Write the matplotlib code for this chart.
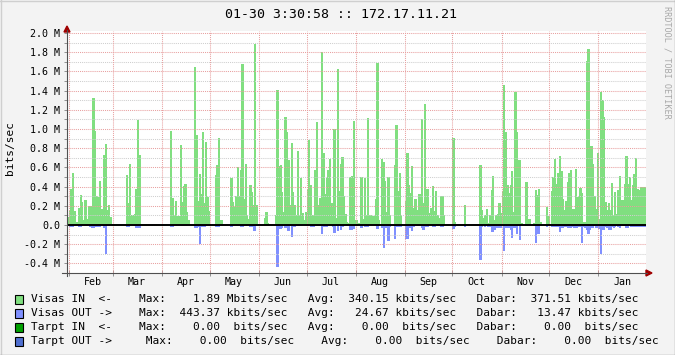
import numpy as np
import pandas as pd
import matplotlib
matplotlib.use("Agg")
import matplotlib.pyplot as plt
import matplotlib.dates as mdates
from matplotlib.patches import Rectangle, Polygon
from matplotlib.lines import Line2D

N = None
start_date = "2014-01-31"   # one bar per day, 365 days

# Visas IN (Mbit/s), daily
visas_in = [
    0.08, 0.16, 0.37, 0.54, 0.15, 0.03, 0.03, 0.18, 0.31, 0.24,
    0.05, 0.26, 0.06, 0.20, 0.20, 0.20, 1.32, 0.98, 0.30, 0.29,
    0.46, 0.17, 0.17, 0.73, 0.84, 0.16, 0.21, 0.08, N, N,
    N, N, N, N, N, N, N, 0.52, 0.23, 0.64,
    0.10, 0.10, 0.11, 0.38, 1.09, 0.73, 0.01, N, N, N,
    N, N, N, N, N, N, N, N, N, N,
    N, N, N, N, N, 0.98, 0.28, 0.10, 0.25, 0.09,
    0.09, 0.83, 0.24, 0.41, 0.43, 0.14, 0.05, N, N, N,
    1.65, 0.94, 0.25, 0.53, 0.32, 0.97, 0.23, 0.86, 0.29, 0.15,
    N, N, N, 0.52, 0.63, 0.91, 0.05, 0.05, N, N,
    N, N, N, 0.49, 0.24, 0.19, 0.30, 0.60, 0.30, 0.57,
    1.68, 0.27, 0.64, 0.10, 0.06, 0.42, 0.34, 0.21, 1.89, 0.21,
    N, N, N, N, 0.07, 0.14, 0.025, N, N, N,
    N, 0.10, 1.41, 0.61, 0.62, 0.34, 0.14, 1.12, 0.97, 0.68,
    0.21, 0.85, 0.34, 0.21, 0.10, 0.77, 0.10, 0.49, 0.13, 0.05,
    0.14, 0.38, 0.89, 0.42, 0.10, 0.10, 0.57, 1.07, 0.21, 0.28,
    1.80, 0.75, 0.32, 0.49, 0.57, 0.69, 0.23, 0.23, 1.00, 0.07,
    1.63, 0.35, 0.64, 0.71, 0.30, 0.11, 0.035, 0.02, 0.50, 0.51,
    1.08, 0.05, 0.05, 0.02, 0.005, 0.50, 0.06, 0.49, 0.10, 1.11,
    0.10, 0.10, 0.09, 0.09, 0.27, 1.69, 0.05, N, 0.69, 0.66,
    0.46, 0.14, 0.50, 0.10, N, N, 0.62, 1.04, 0.35, 0.54,
    0.10, N, N, 0.25, 0.75, 0.42, 0.33, 0.61, 0.18, 0.27,
    0.16, 0.32, 0.32, 1.10, 0.23, 1.26, 0.38, 0.38, 0.13, 0.18,
    0.41, 0.15, 0.35, 0.10, 0.07, 0.30, 0.30, 0.10, N, N,
    N, N, N, 0.91, 0.03, N, N, N, N, N,
    0.21, N, N, N, N, N, N, N, N, N,
    0.63, 0.16, 0.07, 0.10, 0.17, 0.02, 0.10, 0.36, 0.51, 0.05,
    0.10, 0.11, 0.23, 0.13, 0.35, 1.46, 0.97, 0.42, 0.33, 0.42,
    0.56, 0.14, 1.39, 0.97, 0.68, 0.68, 0.025, N, N, 0.45,
    0.06, 0.06, N, N, 0.025, 0.36, 0.31, 0.375, 0.035, N,
    N, N, 0.19, 0.09, N, 0.35, 0.50, 0.69, 0.43, 0.54,
    0.72, 0.56, 0.27, 0.16, 0.25, 0.45, 0.54, 0.57, 0.17, 0.17,
    0.58, 0.29, 0.30, 0.39, 0.33, 0.03, 0.03, 1.71, 1.83, 0.40,
    0.82, 0.64, 0.30, 0.17, 0.75, 0.06, 1.39, 1.30, 1.12, 0.24,
    0.16, 0.23, 0.16, 0.44, 0.10, 0.34, 0.11, 0.36, 0.51, 0.26,
    0.26, 0.43, 0.72, 0.43, 0.50, 0.26, 0.42, 0.53, 0.70, 0.37,
    0.36, 0.40, 0.40, 0.40, 0.40,
]

# Visas OUT (Mbit/s), daily, drawn below zero
visas_out = [
    0.01, 0.02, 0.025, 0.025, 0.01, 0.005, 0.005, 0.025, 0.02, 0.01,
    0.005, 0.015, 0.01, 0.01, 0.02, 0.03, 0.03, 0.02, 0.02, 0.02,
    0.02, 0.01, 0.01, 0.03, 0.30, 0.01, 0.01, 0.005, N, N,
    N, N, N, N, N, N, N, 0.02, 0.02, 0.01,
    0.005, 0.005, 0.01, 0.03, 0.035, 0.03, 0.0, N, N, N,
    N, N, N, N, N, N, N, N, N, N,
    N, N, N, N, N, 0.02, 0.02, 0.005, 0.01, 0.005,
    0.005, 0.015, 0.015, 0.01, 0.015, 0.005, 0.0, N, N, N,
    0.03, 0.03, 0.02, 0.20, 0.02, 0.025, 0.02, 0.01, 0.005, 0.0,
    N, N, N, 0.025, 0.025, 0.025, 0.0, 0.0, N, N,
    N, N, N, 0.02, 0.01, 0.01, 0.01, 0.01, 0.01, 0.02,
    0.02, 0.01, 0.01, 0.005, 0.005, 0.02, 0.025, 0.06, 0.06, 0.01,
    N, N, N, N, 0.0, 0.0, 0.0, N, N, N,
    N, 0.005, 0.44, 0.04, 0.04, 0.03, 0.01, 0.03, 0.03, 0.06,
    0.01, 0.12, 0.02, 0.02, 0.01, 0.01, 0.01, 0.01, 0.005, 0.005,
    0.01, 0.01, 0.01, 0.02, 0.02, 0.02, 0.01, 0.01, 0.01, 0.01,
    0.09, 0.02, 0.02, 0.02, 0.01, 0.01, 0.01, 0.02, 0.08, 0.01,
    0.06, 0.01, 0.05, 0.02, 0.01, 0.005, 0.005, 0.005, 0.05, 0.05,
    0.04, 0.01, 0.01, 0.0, 0.0, 0.03, 0.005, 0.02, 0.02, 0.02,
    0.005, 0.005, 0.005, 0.005, 0.01, 0.04, 0.005, N, 0.03, 0.24,
    0.03, 0.03, 0.17, 0.02, N, N, 0.15, 0.02, 0.02, 0.02,
    0.02, N, N, 0.15, 0.15, 0.03, 0.03, 0.06, 0.02, 0.01,
    0.01, 0.01, 0.01, 0.03, 0.05, 0.02, 0.02, 0.02, 0.005, 0.005,
    0.02, 0.02, 0.005, 0.005, 0.005, 0.02, 0.02, 0.0, N, N,
    N, N, N, 0.04, 0.02, N, N, N, N, N,
    0.02, N, N, N, N, N, N, N, N, N,
    0.36, 0.02, 0.005, 0.02, 0.005, 0.02, 0.02, 0.07, 0.07, 0.05,
    0.03, 0.01, 0.03, 0.03, 0.01, 0.27, 0.03, 0.03, 0.03, 0.05,
    0.14, 0.03, 0.03, 0.09, 0.01, 0.16, 0.005, N, N, 0.01,
    0.0, 0.0, N, N, 0.01, 0.19, 0.09, 0.09, 0.005, N,
    N, N, 0.02, 0.005, N, 0.02, 0.02, 0.02, 0.02, 0.02,
    0.07, 0.03, 0.03, 0.02, 0.02, 0.03, 0.03, 0.03, 0.02, 0.03,
    0.03, 0.03, 0.02, 0.02, 0.19, 0.02, 0.03, 0.05, 0.09, 0.05,
    0.03, 0.03, 0.01, 0.03, 0.03, 0.04, 0.30, 0.05, 0.05, 0.02,
    0.03, 0.05, 0.05, 0.02, 0.03, 0.02, 0.01, 0.02, 0.03, 0.01,
    0.01, 0.01, 0.03, 0.03, 0.01, 0.02, 0.02, 0.02, 0.02, 0.02,
    0.02, 0.02, 0.02, 0.02, 0.02,
]

y_major = [-0.4, -0.2, 0.0, 0.2, 0.4, 0.6, 0.8, 1.0, 1.2, 1.4, 1.6, 1.8, 2.0]
y_minor = [-0.3, -0.1, 0.1, 0.3, 0.5, 0.7, 0.9, 1.1, 1.3, 1.5, 1.7, 1.9]

title = "01-30 3:30:58 :: 172.17.11.21"
unit_label = "bits/sec"
watermark = "RRDTOOL / TOBI OETIKER"
legend_rows = [
    "Visas IN  <-    Max:    1.89 Mbits/sec   Avg:  340.15 kbits/sec   Dabar:  371.51 kbits/sec",
    "Visas OUT ->    Max:  443.37 kbits/sec   Avg:   24.67 kbits/sec   Dabar:   13.47 kbits/sec",
    "Tarpt IN  <-    Max:    0.00  bits/sec   Avg:    0.00  bits/sec   Dabar:    0.00  bits/sec",
    "Tarpt OUT ->     Max:    0.00  bits/sec    Avg:    0.00  bits/sec    Dabar:    0.00  bits/sec",
]
legend_colors = ["#80DF80", "#8090FF", "#00A000", "#4F6FD0"]

IN_COLOR = legend_colors[0]
OUT_COLOR = legend_colors[1]
MONO = "DejaVu Sans Mono"
plt.rcParams["font.family"] = MONO

W, H = 675, 355
def fx(x): return x / W
def fy(y): return 1 - y / H

fig = plt.figure(figsize=(6.75, 3.55), dpi=100, facecolor="#F3F3F3")

ax = fig.add_axes([fx(67), fy(273), fx(646) - fx(67), fy(31) - fy(273)])
ax.set_facecolor("white")
for s in ax.spines.values():
    s.set_visible(False)

dates = pd.date_range(start_date, periods=len(visas_in), freq="D")
xnum = mdates.date2num(dates)
vin = np.array([np.nan if v is None else v for v in visas_in], float)
vout = np.array([np.nan if v is None else v for v in visas_out], float)
mi = ~np.isnan(vin)
mo = ~np.isnan(vout)
# slightly wider than a day so neighbouring bars join without pixel gaps
ax.bar(xnum[mi], vin[mi], width=1.4, align="edge", color=IN_COLOR,
       linewidth=0, antialiased=False, zorder=1)
ax.bar(xnum[mo], -vout[mo], width=1.4, align="edge", color=OUT_COLOR,
       linewidth=0, antialiased=False, zorder=1)

ax.set_xlim(xnum[0], xnum[0] + len(visas_in))
ax.set_ylim(-0.5, 2.0 + 2 / 96)

dot = (0, (1, 1))
for v in y_minor:
    ax.axhline(v, color="#CFCFCF", lw=0.75, ls=dot, zorder=2)
for v in y_major:
    if v != 0:
        ax.axhline(v, color="#E8A0A0", lw=0.75, ls=dot, zorder=2)
month_starts = pd.date_range(dates[0], dates[-1], freq="MS")
for m in month_starts:
    ax.axvline(mdates.date2num(m), color="#E8A0A0", lw=0.75, ls=dot, zorder=2)
ax.axhline(0, color="black", lw=1.4, zorder=3)

# ticks
ax.xaxis.set_major_locator(mdates.MonthLocator())
ax.xaxis.set_major_formatter(plt.NullFormatter())
ax.xaxis.set_minor_locator(mdates.MonthLocator(bymonthday=16))
ax.xaxis.set_minor_formatter(mdates.DateFormatter("%b"))
ax.tick_params(axis="x", which="major", direction="inout", length=4,
               width=0.7, color="#909090")
ax.tick_params(axis="x", which="minor", length=0, pad=3, labelsize=7.2)

ax.set_yticks(y_major)
ax.set_yticklabels([("0.0" if v == 0 else f"{v:.1f} M") for v in y_major])
ax.set_yticks(y_minor, minor=True)
ax.tick_params(axis="y", which="both", direction="out", length=2.5,
               width=0.7, color="#909090", pad=2.5, labelsize=7.2)

# axes lines with arrows
fig.add_artist(Line2D([fx(67), fx(67)], [fy(276), fy(30)], color="#505050",
                      lw=0.8, transform=fig.transFigure))
fig.add_artist(Line2D([fx(62), fx(647)], [fy(273), fy(273)], color="#505050",
                      lw=0.8, transform=fig.transFigure))
fig.add_artist(Polygon([[fx(64), fy(32)], [fx(70), fy(32)], [fx(67), fy(26)]],
                       closed=True, color="#A00000", transform=fig.transFigure))
fig.add_artist(Polygon([[fx(646), fy(270)], [fx(646), fy(276)], [fx(652), fy(273)]],
                       closed=True, color="#A00000", transform=fig.transFigure))

# texts
fig.text(fx(341), fy(14), title, ha="center", va="center", fontsize=9.5, color="black")
fig.text(fx(10), fy(148), unit_label, rotation=90, ha="center", va="center", fontsize=8)
fig.text(fx(667), fy(6), watermark, rotation=270, ha="center", va="top",
         fontsize=6.1, color="#A8A8A8")

row_y = [299, 313, 327, 341]
for txt, col, yy in zip(legend_rows, legend_colors, row_y):
    fig.add_artist(Rectangle((fx(15), fy(yy + 5)), 8 / W, 9 / H, facecolor=col,
                             edgecolor="black", lw=0.8, transform=fig.transFigure))
    fig.text(fx(31), fy(yy), txt, ha="left", va="center", fontsize=8.05)

# frame
fig.add_artist(Line2D([0, 1], [fy(0.5), fy(0.5)], color="#CFCFCF", lw=1, transform=fig.transFigure))
fig.add_artist(Line2D([fx(0.5), fx(0.5)], [0, 1], color="#CFCFCF", lw=1, transform=fig.transFigure))
fig.add_artist(Line2D([0, 1], [fy(354.5), fy(354.5)], color="#9E9E9E", lw=1, transform=fig.transFigure))
fig.add_artist(Line2D([fx(674.5), fx(674.5)], [0, 1], color="#9E9E9E", lw=1, transform=fig.transFigure))

fig.savefig("out.png", dpi=100, facecolor=fig.get_facecolor())
